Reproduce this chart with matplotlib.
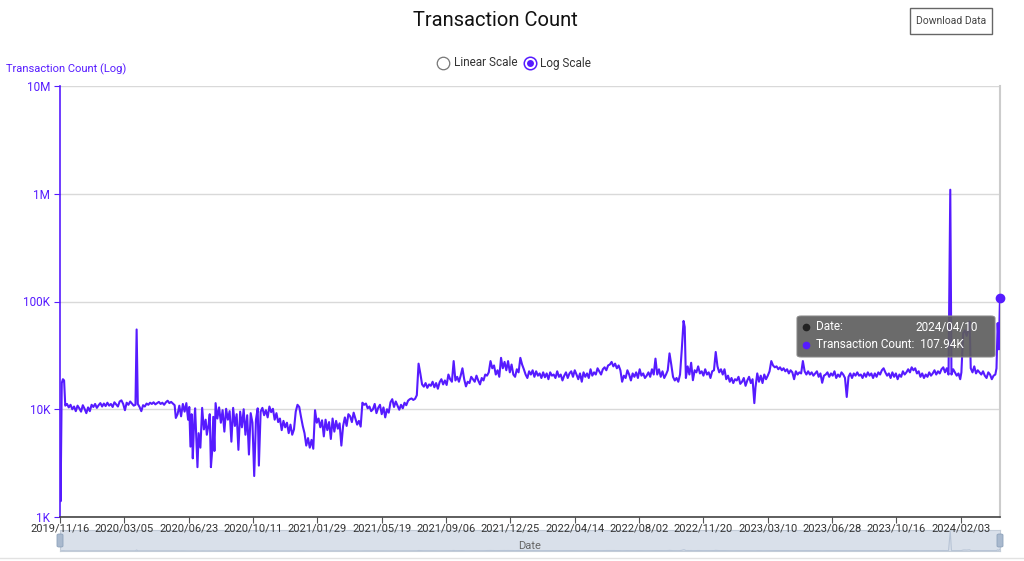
import numpy as np
import matplotlib.pyplot as plt
from matplotlib.patches import FancyBboxPatch, Rectangle
from matplotlib.lines import Line2D

plt.rcParams['font.family'] = ['Roboto', 'DejaVu Sans']

start_date = np.datetime64('2019-11-16')

# day offset from 2019/11/16 and daily transaction count (thousands)
day_offsets = [
    0, 1, 3, 5, 7, 9, 12, 15, 18, 21, 24, 27, 30, 33, 36, 39, 42, 45, 48, 51, 54, 57, 60,
    63, 66, 69, 72, 75, 78, 81, 84, 87, 90, 93, 96, 99, 102, 105, 108, 111, 114, 117, 120,
    123, 126, 129, 131, 133, 136, 139, 142, 145, 148, 151, 154, 157, 160, 163, 166, 169,
    172, 175, 178, 181, 184, 187, 190, 193, 196, 198, 201, 204, 207, 210, 213, 216, 219,
    221, 223, 225, 227, 229, 231, 233, 235, 237, 240, 243, 246, 249, 251, 254, 256, 258,
    260, 262, 264, 266, 269, 272, 275, 278, 281, 284, 287, 290, 293, 296, 299, 302, 305,
    308, 311, 314, 317, 320, 323, 326, 329, 332, 335, 338, 340, 343, 346, 349, 352, 355,
    358, 361, 364, 367, 370, 373, 376, 379, 382, 385, 388, 391, 394, 397, 400, 403, 406,
    409, 412, 415, 418, 421, 424, 427, 430, 433, 436, 439, 442, 445, 448, 451, 454, 457,
    460, 463, 466, 469, 472, 475, 478, 481, 484, 487, 490, 493, 496, 499, 502, 505, 508,
    511, 514, 517, 520, 523, 526, 529, 532, 535, 538, 541, 544, 547, 550, 553, 556, 559,
    562, 565, 568, 571, 574, 577, 580, 583, 586, 589, 592, 595, 598, 601, 604, 607, 610,
    613, 616, 619, 622, 625, 628, 631, 634, 637, 640, 643, 646, 649, 652, 655, 658, 661,
    664, 667, 670, 673, 676, 679, 682, 685, 688, 691, 694, 697, 700, 703, 706, 709, 712,
    715, 718, 721, 724, 727, 730, 733, 736, 739, 742, 745, 748, 751, 754, 757, 760, 763,
    766, 769, 772, 775, 778, 781, 784, 787, 790, 793, 796, 799, 802, 805, 808, 811, 814,
    817, 820, 823, 826, 829, 832, 835, 838, 841, 844, 847, 850, 853, 856, 859, 862, 865,
    868, 871, 874, 877, 880, 883, 886, 889, 892, 895, 898, 901, 904, 907, 910, 913, 916,
    919, 922, 925, 928, 931, 934, 937, 940, 943, 946, 949, 952, 955, 958, 961, 964, 967,
    970, 973, 976, 979, 982, 985, 988, 991, 994, 997, 1000, 1003, 1006, 1009, 1012, 1015,
    1018, 1021, 1024, 1027, 1030, 1033, 1036, 1039, 1042, 1045, 1048, 1051, 1054, 1057,
    1060, 1063, 1066, 1068, 1070, 1073, 1076, 1079, 1082, 1085, 1088, 1091, 1094, 1097,
    1100, 1103, 1106, 1109, 1112, 1115, 1118, 1121, 1124, 1127, 1130, 1133, 1136, 1139,
    1142, 1145, 1148, 1151, 1154, 1157, 1160, 1163, 1166, 1169, 1172, 1175, 1178, 1181,
    1184, 1187, 1189, 1192, 1195, 1198, 1201, 1204, 1207, 1210, 1213, 1216, 1219, 1222,
    1225, 1228, 1231, 1234, 1237, 1240, 1243, 1246, 1249, 1252, 1255, 1258, 1261, 1264,
    1267, 1270, 1273, 1276, 1279, 1282, 1285, 1288, 1291, 1294, 1297, 1300, 1303, 1306,
    1309, 1312, 1315, 1318, 1321, 1324, 1327, 1330, 1333, 1336, 1339, 1342, 1345, 1348,
    1351, 1354, 1357, 1360, 1363, 1366, 1369, 1372, 1375, 1378, 1381, 1384, 1387, 1390,
    1393, 1396, 1399, 1402, 1405, 1408, 1411, 1414, 1417, 1420, 1423, 1426, 1429, 1432,
    1435, 1438, 1441, 1444, 1447, 1450, 1453, 1456, 1459, 1462, 1465, 1468, 1471, 1474,
    1477, 1480, 1483, 1486, 1489, 1492, 1495, 1498, 1501, 1504, 1507, 1510, 1513, 1516,
    1519, 1522, 1524, 1527, 1530, 1533, 1536, 1539, 1541, 1544, 1547, 1550, 1553, 1555,
    1557, 1560, 1563, 1566, 1569, 1572, 1575, 1578, 1581, 1584, 1587, 1590, 1593, 1596,
    1599, 1601, 1603, 1605, 1607,
]

tx_count_k = [
    3.0, 1.4, 17.5, 19.0, 18.5, 10.8, 11.2, 10.4, 11.0, 10.0, 10.6, 9.6, 10.8, 10.2, 9.5,
    10.9, 10.1, 9.2, 10.4, 9.6, 11.0, 10.5, 11.2, 10.3, 10.9, 11.4, 10.6, 11.3, 10.7, 11.5,
    10.8, 11.2, 10.5, 11.6, 11.1, 10.6, 11.8, 12.1, 11.2, 9.8, 11.5, 11.0, 11.8, 11.3, 10.8,
    11.0, 55.0, 11.2, 10.5, 9.6, 10.9, 10.6, 11.3, 11.0, 11.5, 11.2, 11.6, 11.1, 11.4, 11.7,
    11.2, 11.5, 11.0, 11.6, 12.0, 11.4, 11.7, 11.3, 10.9, 8.3, 9.0, 10.8, 8.6, 11.2, 9.5,
    11.4, 8.0, 10.5, 4.5, 9.0, 3.5, 7.0, 10.2, 5.5, 2.9, 6.0, 4.4, 10.3, 6.5, 8.0, 5.8,
    7.2, 9.0, 2.9, 4.0, 8.5, 4.1, 11.4, 8.2, 10.4, 7.5, 9.8, 6.2, 10.1, 8.0, 9.6, 5.0,
    10.3, 7.0, 9.0, 4.2, 9.5, 6.8, 10.0, 5.8, 8.8, 3.8, 9.2, 7.5, 2.4, 8.0, 10.2, 3.0,
    9.5, 10.3, 8.8, 9.8, 8.4, 10.6, 9.4, 10.1, 8.0, 9.2, 7.6, 8.2, 6.4, 7.8, 6.8, 7.5,
    6.0, 7.2, 5.8, 6.5, 9.5, 11.0, 10.5, 8.5, 7.0, 6.0, 4.6, 5.4, 4.4, 5.2, 4.3, 9.8,
    7.5, 8.2, 6.8, 7.9, 5.6, 8.0, 6.4, 7.6, 5.3, 8.2, 6.2, 7.8, 6.6, 7.4, 4.6, 7.0, 8.4,
    7.0, 9.0, 8.6, 7.6, 9.3, 8.2, 7.2, 7.8, 6.9, 11.5, 11.0, 11.3, 10.2, 10.6, 9.6, 10.0,
    11.2, 9.2, 10.3, 11.0, 9.0, 10.4, 8.4, 10.0, 9.3, 11.6, 12.4, 10.5, 11.8, 10.8, 9.9,
    11.0, 10.2, 11.5, 10.9, 12.0, 12.4, 12.6, 12.2, 12.5, 13.5, 26.5, 21.5, 17.0, 16.2,
    17.5, 15.8, 17.0, 16.5, 18.0, 16.0, 17.5, 15.5, 17.8, 19.0, 17.0, 18.5, 16.8, 21.0,
    19.0, 18.0, 28.0, 18.5, 20.0, 18.0, 20.5, 24.0, 19.0, 16.3, 18.0, 17.5, 20.0, 19.0,
    18.0, 20.5, 18.5, 17.0, 19.5, 18.5, 21.0, 20.5, 22.0, 28.0, 24.0, 25.5, 21.0, 23.0,
    20.0, 30.0, 24.0, 27.5, 23.0, 28.0, 22.0, 26.0, 21.0, 20.0, 23.5, 22.0, 30.0, 26.0,
    23.5, 21.0, 19.5, 22.5, 21.0, 23.0, 20.0, 22.5, 20.5, 21.5, 19.5, 22.0, 19.8, 21.5,
    19.0, 22.0, 20.5, 21.0, 19.5, 22.5, 20.0, 21.0, 18.5, 20.5, 22.0, 19.5, 21.5, 22.5,
    20.0, 23.0, 21.0, 19.0, 21.5, 18.0, 22.0, 20.0, 21.5, 19.5, 23.5, 20.5, 22.0, 21.0,
    24.0, 22.5, 21.0, 23.5, 24.5, 23.0, 25.5, 26.0, 27.5, 25.0, 26.5, 24.0, 25.5, 23.0,
    18.0, 20.5, 19.5, 23.0, 21.0, 18.5, 21.5, 20.0, 22.0, 19.5, 23.5, 20.5, 21.5, 19.5,
    20.5, 22.0, 20.0, 23.5, 21.0, 29.5, 21.0, 23.5, 20.0, 22.5, 19.5, 21.0, 23.0, 33.0,
    26.0, 20.0, 18.5, 19.5, 18.0, 21.0, 36.0, 66.0, 58.0, 19.5, 25.0, 21.0, 27.0, 18.6,
    23.0, 22.0, 25.0, 21.5, 22.5, 20.5, 23.5, 21.0, 22.0, 19.5, 22.5, 23.0, 34.0, 25.0,
    22.0, 23.5, 21.0, 23.5, 19.0, 20.5, 18.0, 19.5, 17.5, 19.0, 18.5, 20.0, 17.2, 18.0,
    19.5, 16.5, 18.5, 20.0, 17.5, 19.0, 11.4, 16.0, 21.5, 18.0, 20.5, 17.5, 21.0, 19.0,
    20.5, 22.5, 28.0, 25.5, 24.5, 25.0, 23.5, 24.5, 23.0, 24.0, 22.5, 23.5, 21.5, 23.0,
    22.0, 19.0, 22.5, 21.0, 22.0, 21.5, 28.0, 22.5, 21.0, 22.5, 21.0, 22.0, 20.5, 21.5,
    22.5, 20.0, 21.5, 17.6, 20.5, 21.0, 22.0, 20.0, 21.5, 20.5, 22.5, 19.5, 21.0, 20.0,
    22.0, 21.0, 19.5, 13.0, 20.0, 21.5, 19.5, 21.5, 20.5, 22.0, 20.5, 21.0, 19.5, 21.5,
    20.0, 22.0, 20.5, 21.5, 19.5, 21.5, 20.0, 22.0, 21.0, 23.0, 24.0, 22.0, 20.5, 21.5,
    19.5, 22.0, 20.0, 21.5, 19.0, 21.0, 20.0, 22.5, 21.0, 22.0, 23.5, 22.0, 24.5, 23.0,
    24.0, 21.5, 22.5, 20.0, 21.5, 19.5, 21.0, 20.0, 22.0, 20.5, 21.5, 23.0, 21.0, 22.5,
    21.5, 23.5, 24.5, 22.0, 24.0, 21.0, 1090.0, 21.0, 23.5, 22.0, 20.5, 21.5, 19.0, 22.0,
    51.0, 54.0, 48.0, 56.0, 65.0, 24.0, 22.0, 25.0, 21.5, 23.0, 22.0, 21.0, 22.5, 20.5,
    19.5, 22.0, 21.0, 19.0, 20.5, 21.0, 24.0, 63.0, 36.0, 107.94,
]

tick_labels = ['2019/11/16', '2020/03/05', '2020/06/23', '2020/10/11', '2021/01/29',
               '2021/05/19', '2021/09/06', '2021/12/25', '2022/04/14', '2022/08/02',
               '2022/11/20', '2023/03/10', '2023/06/28', '2023/10/16', '2024/02/03']
y_ticks = [1e3, 1e4, 1e5, 1e6, 1e7]
y_labels = ['1K', '10K', '100K', '1M', '10M']

purple = '#561bff'
dates = start_date + np.array(day_offsets).astype('timedelta64[D]')
counts = np.array(tx_count_k) * 1000


def fx(px):
    return px / 1024


def fy(py):
    return 1 - py / 561


def dot(x, y, **kw):
    fig.add_artist(Line2D([fx(x)], [fy(y)], transform=fig.transFigure, marker='o',
                          linestyle='none', **kw))


fig = plt.figure(figsize=(10.24, 5.61), dpi=100)

# zoom slider with data shadow (drawn first so tick labels sit above it)
sl = fig.add_axes([fx(60), fy(551), 940 / 1024, 21 / 561])
sl.set_facecolor('#d9e0ea')
sl.plot(dates, counts, color='#b7c4d6', lw=0.8)
sl.set_xlim(dates[0], dates[-1])
sl.set_ylim(0, counts.max() * 1.05)
sl.set_xticks([])
sl.set_yticks([])
for s in sl.spines.values():
    s.set_color('#c3ccd8')
sl.text(0.5, 0.22, 'Date', transform=sl.transAxes, ha='center', va='center',
        fontsize=8, color='#666666')
for hx in [60, 1000]:
    fig.patches.append(FancyBboxPatch((fx(hx - 3), fy(547)), 6 / 1024, 13 / 561,
                                      boxstyle='round,pad=0,rounding_size=0.002',
                                      transform=fig.transFigure, fc='#a9b9ce', ec='#8ea2bb',
                                      lw=0.6, zorder=10))

ax = fig.add_axes([fx(60), fy(517), 940 / 1024, 431 / 561])
ax.set_zorder(3)

ax.plot(dates, counts, color=purple, lw=1.5, zorder=3)
ax.plot(dates[-1], counts[-1], 'o', color=purple, ms=6, zorder=4, clip_on=False)

ax.set_yscale('log')
ax.set_ylim(1e3, 1e7)
ax.set_yticks(y_ticks)
ax.set_yticklabels(y_labels)
ax.yaxis.set_minor_locator(plt.NullLocator())
ax.tick_params(axis='y', colors=purple, labelsize=8.5, length=4, width=0.8, pad=3)
ax.grid(axis='y', color='#d9d9d9', lw=1)
ax.set_axisbelow(True)

ax.set_xlim(dates[0], dates[-1])
tick_dates = [np.datetime64(t.replace('/', '-')) for t in tick_labels]
ax.set_xticks(tick_dates)
ax.set_xticklabels(tick_labels)
ax.tick_params(axis='x', labelcolor='#333333', color='#555555', labelsize=8,
               length=4, width=0.8, pad=1)

ax.spines['top'].set_visible(False)
ax.spines['left'].set_color(purple)
ax.spines['left'].set_linewidth(1.2)
ax.spines['right'].set_color('#cccccc')
ax.spines['right'].set_linewidth(1.5)
ax.spines['bottom'].set_color('#444444')
ax.spines['bottom'].set_linewidth(1.2)

# title and controls
fig.text(fx(495), fy(21), 'Transaction Count', ha='center', va='center',
         fontsize=14.5, color='#111111')
fig.patches.append(Rectangle((fx(910), fy(34)), 82 / 1024, 26 / 561,
                             transform=fig.transFigure, fill=False, ec='#666666', lw=1))
fig.text(fx(951), fy(21), 'Download Data', ha='center', va='center',
         fontsize=7.5, color='#444444')
fig.text(fx(6), fy(69), 'Transaction Count (Log)', ha='left', va='center',
         fontsize=8, color=purple)

dot(443, 63, ms=9, mfc='white', mec='#777777', mew=0.9)
fig.text(fx(454), fy(63), 'Linear Scale', ha='left', va='center',
         fontsize=8.5, color='#333333')
dot(530, 63, ms=9, mfc='white', mec=purple, mew=1.1)
dot(530, 63, ms=5, mfc=purple, mec=purple, mew=0)
fig.text(fx(540), fy(63), 'Log Scale', ha='left', va='center',
         fontsize=8.5, color='#333333')

# tooltip
fig.patches.append(FancyBboxPatch((fx(797), fy(357)), 198 / 1024, 41 / 561,
                                  boxstyle='round,pad=0,rounding_size=0.004',
                                  transform=fig.transFigure, fc='#5e5e5e', ec='#888888',
                                  lw=0.8, alpha=0.92, zorder=10))
dot(806, 327, ms=4.5, mfc='#222222', mec='#222222', zorder=11)
dot(806, 345, ms=4.5, mfc=purple, mec=purple, zorder=11)
fig.text(fx(816), fy(327), 'Date:', ha='left', va='center', fontsize=8.5,
         color='white', zorder=12)
fig.text(fx(978), fy(327), '2024/04/10', ha='right', va='center', fontsize=8.5,
         color='white', zorder=12)
fig.text(fx(816), fy(345), 'Transaction Count:  107.94K', ha='left', va='center',
         fontsize=8.5, color='white', zorder=12)

fig.add_artist(Line2D([0, 1], [fy(558)] * 2, color='#e2e2e2', lw=1))

fig.savefig('out.png', dpi=100)
